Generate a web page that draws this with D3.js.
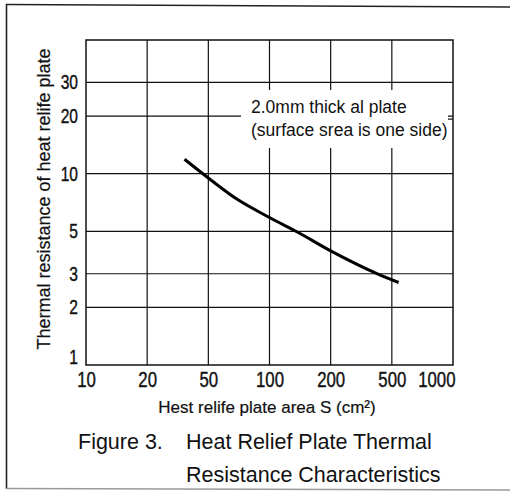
<!DOCTYPE html>
<html>
<head>
<meta charset="utf-8">
<script src="https://cdn.jsdelivr.net/npm/d3@7"></script>
<style>
  html, body { margin: 0; padding: 0; background: #fff; }
  svg { display: block; }
</style>
</head>
<body>
<svg id="chart" width="510" height="498"></svg>
<script>
// ---- data ----
const xTicks = [10, 20, 50, 100, 200, 500, 1000];
const yTicks = [1, 2, 3, 5, 10, 20, 30];
const yMax = 50;
const curveArea = [35, 50, 70, 100, 140, 200, 400, 540];          // S (cm²)
const curveResistance = [11.9, 9.5, 7.3, 5.9, 4.9, 3.95, 3.0, 2.7]; // thermal resistance
const yTitle = "Thermal resistance of heat relife plate";
const xTitle = "Hest relife plate area S (cm²)";
const noteLines = ["2.0mm thick al plate", "(surface srea is one side)"];
const captionLabel = "Figure 3.";
const captionLines = ["Heat Relief Plate Thermal", "Resistance Characteristics"];

// ---- layout ----
const svg = d3.select("#chart");
const L = 86, R = 453, T = 40, B = 365;
const sans = "'Liberation Sans', Arial, Helvetica, sans-serif";
const squeeze = 0.78; // condensed look of the tick digits

const x = d3.scaleLog()
  .domain(xTicks)
  .range(xTicks.map((d, i) => L + i * (R - L) / (xTicks.length - 1)));
const y = d3.scaleLog().domain([1, yMax]).range([B, T]);

// outer frame
const frame = svg.append("g").attr("stroke", "#222").attr("fill", "none");
frame.append("line").attr("x1", 6.5).attr("y1", 4).attr("x2", 6.5).attr("y2", 489).attr("stroke-width", 1.6);
frame.append("line").attr("x1", 6).attr("y1", 4.5).attr("x2", 510).attr("y2", 7).attr("stroke-width", 1.6);
frame.append("line").attr("x1", 6).attr("y1", 488.5).attr("x2", 510).attr("y2", 490).attr("stroke-width", 1.3).attr("stroke", "#999");

// grid
const grid = svg.append("g").attr("stroke", "#111").attr("stroke-width", 1.2);
grid.selectAll("line.v").data(xTicks.slice(1, -1)).join("line")
  .attr("x1", d => x(d)).attr("x2", d => x(d)).attr("y1", T).attr("y2", B);
grid.selectAll("line.h").data(yTicks.slice(1)).join("line")
  .attr("x1", L).attr("x2", R).attr("y1", d => y(d)).attr("y2", d => y(d));
svg.append("rect").attr("x", L).attr("y", T).attr("width", R - L).attr("height", B - T)
  .attr("fill", "none").attr("stroke", "#111").attr("stroke-width", 1.5);

// annotation box (white background covering the grid)
svg.append("rect").attr("x", 241).attr("y", 90).attr("width", 207).attr("height", 58).attr("fill", "#fff");
svg.append("line").attr("x1", 448).attr("x2", R).attr("y1", y(20) + 3).attr("y2", y(20) + 3)
  .attr("stroke", "#111").attr("stroke-width", 1.2);
svg.append("g").selectAll("text").data(noteLines).join("text")
  .attr("x", 251).attr("y", (d, i) => 113 + i * 23)
  .attr("font-family", sans).attr("font-size", 17.5).attr("fill", "#111")
  .text(d => d);

// axes (labels only; grid drawn above)
const xAxis = d3.axisBottom(x).tickValues(xTicks).tickSize(0).tickPadding(7).tickFormat(d3.format("d"));
const gx = svg.append("g").attr("transform", `translate(0,${B})`).call(xAxis);
gx.select(".domain").remove();
gx.selectAll("text").attr("font-family", sans).attr("font-size", 21.5).attr("fill", "#111")
  .attr("stroke", "#111").attr("stroke-width", 0.4)
  .attr("transform", `scale(${squeeze},1)`)
  .filter(d => d === xTicks[xTicks.length - 1])
  .attr("text-anchor", "end").attr("x", 2 / squeeze);

const yAxis = d3.axisLeft(y).tickValues(yTicks).tickSize(0).tickPadding(8).tickFormat(d3.format("d"));
const gy = svg.append("g").attr("transform", `translate(${L},0)`).call(yAxis);
gy.select(".domain").remove();
gy.selectAll("text").attr("font-family", sans).attr("font-size", 20).attr("fill", "#111")
  .attr("stroke", "#111").attr("stroke-width", 0.4)
  .attr("x", -8 / squeeze)
  .attr("transform", `scale(${squeeze},1)`)
  .filter(d => d === yTicks[0]).attr("y", -8);

// curve
const pts = curveArea.map((a, i) => [a, curveResistance[i]]);
svg.append("path").datum(pts)
  .attr("fill", "none").attr("stroke", "#000").attr("stroke-width", 3).attr("stroke-linecap", "butt")
  .attr("d", d3.line().x(d => x(d[0])).y(d => y(d[1])).curve(d3.curveCatmullRom.alpha(0.5)));

// axis titles
svg.append("text").attr("transform", `translate(50,199) rotate(-90)`)
  .attr("text-anchor", "middle").attr("font-family", sans).attr("font-size", 18).attr("fill", "#111")
  .attr("stroke", "#111").attr("stroke-width", 0.2)
  .text(yTitle);
svg.append("text").attr("x", 267).attr("y", 413)
  .attr("text-anchor", "middle").attr("font-family", sans).attr("font-size", 17).attr("fill", "#111")
  .attr("stroke", "#111").attr("stroke-width", 0.2)
  .text(xTitle);

// caption
svg.append("text").attr("x", 78).attr("y", 449)
  .attr("font-family", sans).attr("font-size", 21.5).attr("fill", "#111").text(captionLabel);
svg.append("g").selectAll("text").data(captionLines).join("text")
  .attr("x", 186).attr("y", (d, i) => 449 + i * 33)
  .attr("font-family", sans).attr("font-size", 21.5).attr("fill", "#111")
  .text(d => d);
</script>
</body>
</html>
